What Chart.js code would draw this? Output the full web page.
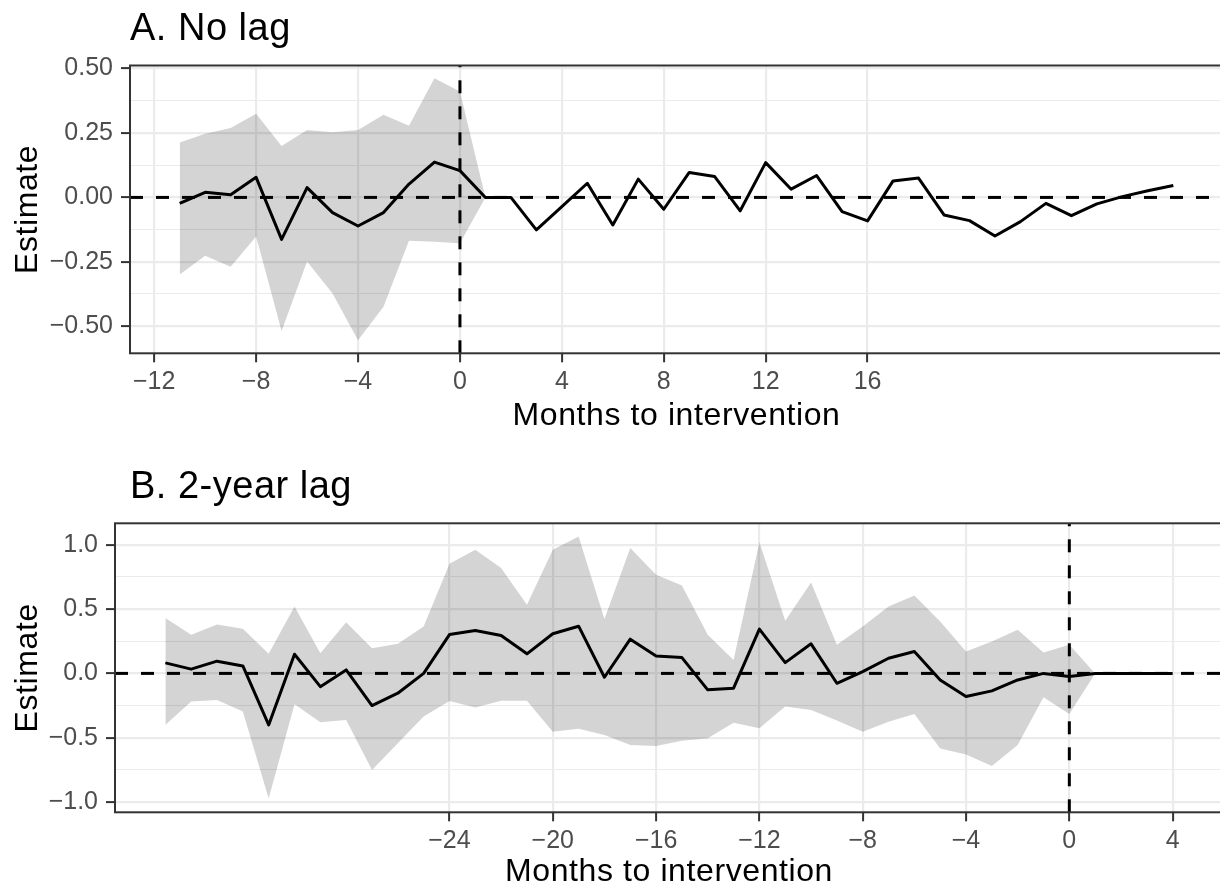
<!DOCTYPE html>
<html><head><meta charset="utf-8">
<script src="https://cdn.jsdelivr.net/npm/chart.js@4/dist/chart.umd.min.js"></script>
<style>
html,body{margin:0;padding:0;background:#fff;overflow:hidden;width:1220px;height:892px;}
canvas{position:absolute;left:0;display:block;}
#cA{top:0;} #cB{top:446px;}
</style></head><body>
<canvas id="cA" width="1230" height="446"></canvas>
<canvas id="cB" width="1230" height="446"></canvas>
<script>
// ---------- Panel A: No lag ----------
const monthsA = [-11,-10,-9,-8,-7,-6,-5,-4,-3,-2,-1,0,1,2,3,4,5,6,7,8,9,10,11,12,13,14,15,16,17,18,19,20,21,22,23,24,25,26,27,28];
const estimateA = [-0.023,0.020,0.010,0.078,-0.163,0.038,-0.059,-0.111,-0.059,0.052,0.137,0.104,
  0.000,0.000,-0.126,-0.036,0.055,-0.107,0.071,-0.046,0.097,0.081,-0.052,0.135,0.032,0.085,-0.055,-0.091,
  0.064,0.075,-0.068,-0.090,-0.150,-0.094,-0.023,-0.071,-0.025,0.003,0.026,0.046];
const upperA = [0.213,0.247,0.269,0.325,0.200,0.262,0.253,0.262,0.321,0.278,0.463,0.411,0.000,
  null,null,null,null,null,null,null,null,null,null,null,null,null,null,null,null,null,null,null,null,null,null,null,null,null,null,null];
const lowerA = [-0.299,-0.226,-0.269,-0.152,-0.518,-0.249,-0.373,-0.554,-0.424,-0.168,-0.172,-0.178,0.000,
  null,null,null,null,null,null,null,null,null,null,null,null,null,null,null,null,null,null,null,null,null,null,null,null,null,null,null];
const xTicksA = [-12,-8,-4,0,4,8,12,16];
const yTicksA = [-0.5,-0.25,0,0.25,0.5];
const yTickLabelsA = ['\u22120.50','\u22120.25','0.00','0.25','0.50'];
const yMinorA = [-0.375,-0.125,0.125,0.375];

// ---------- Panel B: 2-year lag ----------
const monthsB = [-35,-34,-33,-32,-31,-30,-29,-28,-27,-26,-25,-24,-23,-22,-21,-20,-19,-18,-17,-16,-15,-14,-13,-12,-11,-10,-9,-8,-7,-6,-5,-4,-3,-2,-1,0,1,2,3,4];
const estimateB = [0.082,0.033,0.095,0.058,-0.401,0.149,-0.103,0.027,-0.250,-0.154,0.000,0.302,0.333,
  0.295,0.152,0.308,0.367,-0.030,0.266,0.136,0.123,-0.128,-0.115,0.344,0.084,0.230,-0.077,
  0.014,0.118,0.170,-0.051,-0.180,-0.136,-0.051,0.000,-0.025,0.000,0.000,0.000,0.000];
const upperB = [0.430,0.300,0.380,0.347,0.152,0.520,0.157,0.398,0.196,0.230,0.365,0.853,0.962,
  0.819,0.533,0.962,1.065,0.422,0.975,0.767,0.684,0.300,0.105,1.019,0.409,0.707,0.222,
  0.365,0.520,0.606,0.403,0.170,0.248,0.339,0.162,0.222,0.000,null,null,null];
const lowerB = [-0.401,-0.219,-0.206,-0.297,-0.972,-0.240,-0.380,-0.362,-0.752,-0.544,-0.336,-0.214,-0.266,
  -0.212,-0.212,-0.453,-0.430,-0.479,-0.557,-0.565,-0.523,-0.505,-0.383,-0.427,-0.258,-0.284,-0.367,
  -0.453,-0.375,-0.315,-0.583,-0.630,-0.720,-0.557,-0.185,-0.315,0.000,null,null,null];
const xTicksB = [-24,-20,-16,-12,-8,-4,0,4];
const yTicksB = [-1,-0.5,0,0.5,1];
const yTickLabelsB = ['\u22121.0','\u22120.5','0.0','0.5','1.0'];
const yMinorB = [-0.75,-0.25,0.25,0.75];

const FONT = "'Liberation Sans', Arial, Helvetica, sans-serif";

function toPoints(xs, ys){
  return xs.map((x,i)=>({x:x, y:ys[i]})).filter(p=>p.y!==null);
}

const panelPlugin = {
  id: 'panelDecor',
  afterLayout(chart){
    Object.values(chart.scales).forEach(s=>{
      if (!s._lsPatched && typeof s.drawTitle === 'function'){
        const orig = s.drawTitle;
        s.drawTitle = function(){
          const c = this.ctx; const prev = c.letterSpacing;
          try { c.letterSpacing = '0.6px'; } catch(e){}
          orig.apply(this, arguments);
          try { c.letterSpacing = prev; } catch(e){}
        };
        s._lsPatched = true;
      }
    });
  },
  afterDraw(chart, args, opts){
    const {ctx, chartArea:a} = chart;
    ctx.save();
    ctx.strokeStyle = '#333333';
    ctx.lineWidth = 2;
    ctx.strokeRect(a.left, a.top, a.right - a.left, a.bottom - a.top);
    ctx.fillStyle = '#000000';
    ctx.font = '38px ' + FONT;
    try { ctx.letterSpacing = '0.5px'; } catch(e){}
    ctx.textBaseline = 'alphabetic';
    ctx.textAlign = 'left';
    ctx.fillText(opts.text, opts.x, opts.y);
    ctx.restore();
  }
};

function makeChart(id, cfg){
  const isMajorY = v => cfg.yTicks.some(t => Math.abs(t - v) < 1e-9);
  const yAll = cfg.yTicks.concat(cfg.yMinor).sort((a,b)=>a-b);
  return new Chart(document.getElementById(id), {
    type: 'line',
    data: {
      datasets: [
        { data: toPoints(cfg.months, cfg.lower), borderWidth: 0, pointRadius: 0, fill: false, order: 5 },
        { data: toPoints(cfg.months, cfg.upper), borderWidth: 0, pointRadius: 0, fill: '-1',
          backgroundColor: 'rgba(0,0,0,0.17)', order: 4 },
        { data: toPoints(cfg.months, cfg.estimate), borderColor: '#000000', borderWidth: 3,
          pointRadius: 0, fill: false, tension: 0, borderJoinStyle: 'round', order: 3 },
        { data: [{x: cfg.xMin, y: 0}, {x: cfg.xMax, y: 0}], borderColor: '#000000', borderWidth: 3,
          borderDash: [13, 13], pointRadius: 0, fill: false, order: 2 },
        { data: [{x: 0, y: cfg.yMin}, {x: 0, y: cfg.yMax}], borderColor: '#000000', borderWidth: 3,
          borderDash: [13, 13], pointRadius: 0, fill: false, order: 1 }
      ]
    },
    options: {
      responsive: false,
      animation: false,
      events: [],
      layout: { padding: cfg.padding },
      plugins: {
        legend: { display: false },
        tooltip: { enabled: false },
        panelDecor: { text: cfg.title, x: cfg.titleX, y: cfg.titleY }
      },
      scales: {
        x: {
          type: 'linear', min: cfg.xMin, max: cfg.xMax,
          afterBuildTicks: s => { s.ticks = cfg.xTicks.map(v => ({value: v})); },
          afterFit: s => { s.height = cfg.xAxisHeight; },
          border: { display: false },
          grid: { color: '#EBEBEB', lineWidth: 2.2, tickColor: '#333333', tickWidth: 2, tickLength: 9 },
          ticks: { autoSkip: false, maxRotation: 0, padding: 5, color: '#4D4D4D',
            font: { family: FONT, size: 25 },
            callback: v => (v < 0 ? '\u2212' + Math.abs(v) : String(v)) },
          title: { display: true, text: 'Months to intervention', color: '#000000',
            font: { family: FONT, size: 32 }, padding: { top: 0, bottom: 0 } }
        },
        y: {
          type: 'linear', min: cfg.yMin, max: cfg.yMax,
          afterBuildTicks: s => { s.ticks = yAll.map(v => ({value: v})); },
          afterFit: s => { s.width = cfg.yAxisWidth; },
          border: { display: false },
          grid: {
            color: '#EBEBEB',
            lineWidth: c => (c.tick && isMajorY(c.tick.value)) ? 2.2 : 1.1,
            tickColor: c => (c.tick && isMajorY(c.tick.value)) ? '#333333' : 'rgba(0,0,0,0)',
            tickWidth: 2, tickLength: 9
          },
          ticks: { autoSkip: false, padding: 8, color: '#4D4D4D',
            font: { family: FONT, size: 25 },
            callback: v => {
              const i = cfg.yTicks.findIndex(t => Math.abs(t - v) < 1e-9);
              return i >= 0 ? cfg.yLabels[i] : '';
            } },
          title: { display: true, text: 'Estimate', color: '#000000',
            font: { family: FONT, size: 32 }, padding: { top: 9, bottom: 0 } }
        }
      }
    },
    plugins: [panelPlugin]
  });
}

makeChart('cA', {
  months: monthsA, estimate: estimateA, upper: upperA, lower: lowerA,
  xTicks: xTicksA, yTicks: yTicksA, yLabels: yTickLabelsA, yMinor: yMinorA,
  xMin: -12.95, xMax: 29.95, yMin: -0.605, yMax: 0.512,
  padding: { top: 65.5, right: 7, bottom: 10.8, left: 0 },
  xAxisHeight: 81.9, yAxisWidth: 130,
  title: 'A. No lag', titleX: 130, titleY: 40
});

makeChart('cB', {
  months: monthsB, estimate: estimateB, upper: upperB, lower: lowerB,
  xTicks: xTicksB, yTicks: yTicksB, yLabels: yTickLabelsB, yMinor: yMinorB,
  xMin: -36.95, xMax: 5.95, yMin: -1.08, yMax: 1.167,
  padding: { top: 77.3, right: 7, bottom: 0.5, left: 0 },
  xAxisHeight: 79.2, yAxisWidth: 115,
  title: 'B. 2-year lag', titleX: 130, titleY: 51.5
});
</script>
</body></html>
